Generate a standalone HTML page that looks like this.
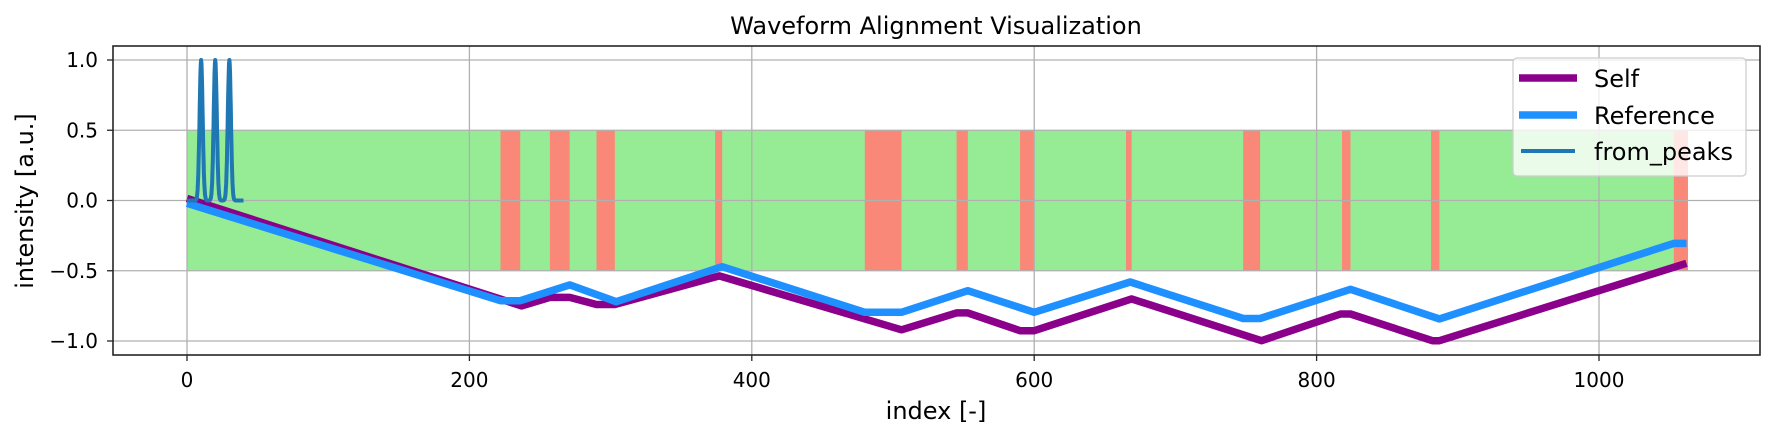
<!DOCTYPE html>
<html><head><meta charset="utf-8"><style>
html,body{margin:0;padding:0;background:#fff;}
svg{display:block;font-family:"DejaVu Sans","Liberation Sans",sans-serif;}
</style></head><body>
<svg id="chart" width="1774" height="437" viewBox="0 0 1774 437" xmlns="http://www.w3.org/2000/svg">
<g id="spans"></g>
<g id="grid"></g>
<g id="series"></g>
<g id="axes"></g>
<text x="936" y="34" font-size="24" text-anchor="middle" fill="#000">Waveform Alignment Visualization</text>
<text x="936" y="419" font-size="24" text-anchor="middle" fill="#000">index [-]</text>
<text x="0" y="0" font-size="24" text-anchor="middle" fill="#000" transform="translate(33,201) rotate(-90)">intensity [a.u.]</text>
<g>
<rect x="1513" y="58" width="233" height="118" rx="4" fill="#fff" fill-opacity="0.8" stroke="#ccc" stroke-width="1.2"/>
<line x1="1519" y1="78" x2="1577" y2="78" stroke="#8b008b" stroke-width="7.5"/>
<text x="1594" y="87" font-size="24">Self</text>
<line x1="1519" y1="115" x2="1577" y2="115" stroke="#1e90ff" stroke-width="7.5"/>
<text x="1594" y="124" font-size="24">Reference</text>
<line x1="1521" y1="151" x2="1575" y2="151" stroke="#1f77b4" stroke-width="4"/>
<text x="1594" y="160" font-size="24">from_peaks</text>
</g>
</svg>
<script>
const xTicks = [0, 200, 400, 600, 800, 1000];
const yTicks = [-1.0, -0.5, 0.0, 0.5, 1.0];
const yTickLabels = ["\u22121.0", "\u22120.5", "0.0", "0.5", "1.0"];
const greenSpan = [0, 1063];
const redStarts = [222, 257, 290, 374, 480, 545, 590, 665, 748, 818, 881, 1053];
const redEnds   = [236, 271, 303, 379, 506, 553, 600, 669, 760, 824, 887, 1063];
const selfX = [0, 237, 257, 271, 290, 303, 377, 506, 545, 553, 590, 600, 669, 761, 817, 824, 882, 887, 1062];
const selfY = [0.015, -0.75, -0.69, -0.69, -0.74, -0.74, -0.537, -0.92, -0.80, -0.80, -0.927, -0.927, -0.70, -0.998, -0.808, -0.808, -0.998, -0.998, -0.447];
const refX = [0, 222, 236, 271, 304, 379, 480, 506, 553, 600, 668, 748, 760, 824, 887, 1053, 1062];
const refY = [-0.02, -0.713, -0.713, -0.601, -0.72, -0.471, -0.796, -0.796, -0.642, -0.796, -0.58, -0.84, -0.84, -0.632, -0.843, -0.305, -0.305];
const peakPositions = [10, 20, 30];
const peakHeights = [1.0, 1.0, 1.0];
const peakRange = [0, 40];

const L = 113, R = 1760, T = 46, B = 355;
const sx = v => 187 + v * 1.412;
const sy = v => 200.5 - v * 140.5;
const NS = "http://www.w3.org/2000/svg";
function mk(tag, attrs, parent) {
  const e = document.createElementNS(NS, tag);
  for (const k in attrs) e.setAttribute(k, attrs[k]);
  parent.appendChild(e);
  return e;
}
const spans = document.getElementById('spans');
const g0 = mk('rect', {x: sx(greenSpan[0]), y: sy(0.5), width: sx(greenSpan[1]) - sx(greenSpan[0]), height: sy(-0.5) - sy(0.5), fill: '#96ec94'}, spans);


redStarts.forEach((s, i) => {
  const r = mk('rect', {x: sx(s), y: sy(0.5), width: sx(redEnds[i]) - sx(s), height: sy(-0.5) - sy(0.5), fill: '#fa8878'}, spans);
  
  
});
const grid = document.getElementById('grid');
xTicks.forEach(t => {
  const l = mk('line', {x1: sx(t), x2: sx(t), y1: T, y2: B, stroke: '#b0b0b0', 'stroke-width': 1.3}, grid);
  
  
});
yTicks.forEach(t => {
  const l = mk('line', {x1: L, x2: R, y1: sy(t), y2: sy(t), stroke: '#b0b0b0', 'stroke-width': 1.3}, grid);
  
  
});
const series = document.getElementById('series');
function pts(xs, ys) { return xs.map((x, i) => sx(x).toFixed(1) + ',' + sy(ys[i]).toFixed(1)).join(' '); }
const pSelf = mk('polyline', {points: pts(selfX, selfY), fill: 'none', stroke: '#8b008b', 'stroke-width': 7.5, 'stroke-linejoin': 'round'}, series);


const pRef = mk('polyline', {points: pts(refX, refY), fill: 'none', stroke: '#1e90ff', 'stroke-width': 7.5, 'stroke-linejoin': 'round'}, series);


const fx = [], fy = [];
for (let i = peakRange[0]; i <= peakRange[1]; i += 0.25) {
  let v = 0;
  peakPositions.forEach((p, k) => { v += peakHeights[k] * Math.exp(-((i - p) ** 2) / (2 * 1.1 * 1.1)); });
  fx.push(i); fy.push(v);
}
const pPk = mk('polyline', {points: pts(fx, fy), fill: 'none', stroke: '#1f77b4', 'stroke-width': 4, 'stroke-linejoin': 'round'}, series);


const axes = document.getElementById('axes');
const frame = mk('rect', {x: L, y: T, width: R - L, height: B - T, fill: 'none', stroke: '#262626', 'stroke-width': 1.6}, axes);


xTicks.forEach(t => {
  const tk = mk('line', {x1: sx(t), x2: sx(t), y1: B, y2: B + 6, stroke: '#262626', 'stroke-width': 1.3}, axes);
  
  
  const tx = mk('text', {x: sx(t), y: 387, 'font-size': 20, 'text-anchor': 'middle', fill: '#000'}, axes);
  tx.textContent = String(t);
  
  
});
yTicks.forEach((t, i) => {
  const tk = mk('line', {x1: L - 6, x2: L, y1: sy(t), y2: sy(t), stroke: '#262626', 'stroke-width': 1.3}, axes);
  
  
  const tx = mk('text', {x: 98, y: sy(t) + 7, 'font-size': 20, 'text-anchor': 'end', fill: '#000'}, axes);
  tx.textContent = yTickLabels[i];
  
  
});
</script>
</body></html>
